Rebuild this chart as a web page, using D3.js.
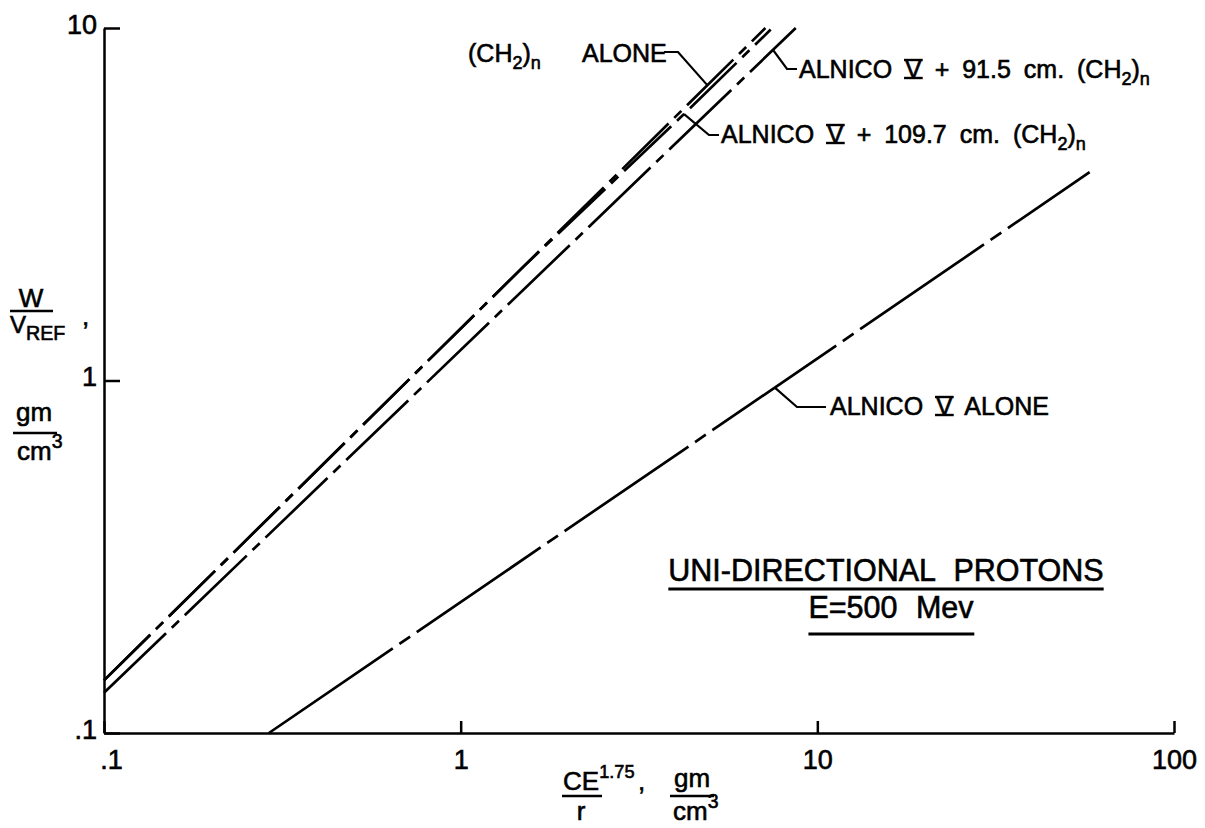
<!DOCTYPE html>
<html>
<head>
<meta charset="utf-8">
<script src="https://cdn.jsdelivr.net/npm/d3@7"></script>
<style>
  html, body { margin: 0; padding: 0; background: #fff; }
  svg { display: block; }
  text { font-family: "Liberation Sans", Arial, sans-serif; fill: #000; stroke: #000; stroke-width: 0.6px; }
</style>
</head>
<body>
<svg id="chart" width="1205" height="828"></svg>
<script>
// Curve points: [CE^1.75/r (gm/cm^3), W/V_REF (gm/cm^3)]
const ch2Alone    = [[0.1, 0.141], [7.15, 10]];
const alnico1097  = [[0.1, 0.141], [1.5, 2.104], [4.23, 5.7], [7.4, 9.9]];
const alnico915   = [[0.1, 0.13], [8.7, 10]];
const alnicoAlone = [[0.29, 0.1], [7.6, 0.955], [58, 3.9]];

const xTicks = [0.1, 1, 10, 100];
const yTicks = [0.1, 1, 10];
const tickText = new Map([[0.1, ".1"], [1, "1"], [10, "10"], [100, "100"]]);

const svg = d3.select("#chart");

const x = d3.scaleLog().domain([0.1, 100]).range([104, 1174]);
const y = d3.scaleLog().domain([0.1, 10]).range([733, 28]);

const INK = "#000";

// ---- axes (ticks point inward) ----
const gx = svg.append("g")
  .attr("transform", `translate(0,${y(0.1)})`)
  .call(d3.axisBottom(x).tickValues(xTicks).tickFormat(d => tickText.get(d))
        .tickSizeInner(-12).tickSizeOuter(0).tickPadding(17));
const gy = svg.append("g")
  .attr("transform", `translate(${x(0.1)},0)`)
  .call(d3.axisLeft(y).tickValues(yTicks).tickFormat(d => tickText.get(d))
        .tickSizeInner(-16).tickSizeOuter(0).tickPadding(7));

[gx, gy].forEach(g => {
  g.attr("font-family", null).attr("font-size", 27);
  g.selectAll("path.domain, line").attr("stroke", INK).attr("stroke-width", 2.5);
  g.selectAll("text").attr("fill", INK);
});
gy.selectAll("text").attr("dy", 5);
gx.selectAll(".tick text").filter(d => d === 0.1).attr("dx", 7);

// ---- curves ----
const series = [
  { pts: ch2Alone,    dash: "65 8 10 8" },
  { pts: alnico1097,  dash: "65 8 10 8" },
  { pts: alnico915,   dash: "86 8 10 8" },
  { pts: alnicoAlone, dash: "150 8 13 8" }
];
const line = d3.line().x(d => x(d[0])).y(d => y(d[1]));
svg.append("g").selectAll("path").data(series).join("path")
  .attr("d", d => line(d.pts))
  .attr("fill", "none")
  .attr("stroke", INK)
  .attr("stroke-width", 2.7)
  .attr("stroke-dasharray", d => d.dash);

// ---- label helper: parts may be subscript, superscript or roman numeral ----
function label(px, py, parts, fs, anchor) {
  const t = svg.append("text").attr("x", px).attr("y", py)
    .attr("font-size", fs).style("word-spacing", "6px")
    .attr("text-anchor", anchor || "start");
  let shift = 0;
  parts.forEach(p => {
    const s = t.append("tspan").text(p.t);
    let target = 0;
    if (p.sub) { s.attr("font-size", fs * (p.k || 0.72)); target = fs * 0.28; }
    if (p.sup) { s.attr("font-size", fs * (p.k || 0.66)); target = -fs * 0.45; }
    if (target - shift !== 0) s.attr("dy", target - shift);
    shift = target;
    if (p.roman) s.classed("roman", true);
  });
  t.selectAll("tspan.roman").each(function () {
    const a = this.getStartPositionOfChar(0), b = this.getEndPositionOfChar(0);
    const top = a.y - fs * 0.72;
    [a.y, top].forEach(yy => svg.append("line")
      .attr("x1", a.x - 1).attr("x2", b.x + 1).attr("y1", yy).attr("y2", yy)
      .attr("stroke", INK).attr("stroke-width", 2.4));
  });
  return t;
}
function leader(pts) {
  svg.append("path").attr("d", d3.line()(pts))
    .attr("fill", "none").attr("stroke", INK).attr("stroke-width", 2.2);
}

const FS = 25;
const ch2Parts = [{ t: "(CH" }, { t: "2", sub: true }, { t: ")" }, { t: "n", sub: true }];

// (CH2)n ALONE
label(468, 62, ch2Parts, FS);
label(582, 62, [{ t: "ALONE" }], FS);
leader([[664, 52], [678, 52], [x(4.9), y(1.41 * 4.9)]]);

// ALNICO V + 91.5 cm. (CH2)n
label(799, 78, [{ t: "ALNICO " }, { t: "V", roman: true }, { t: " + 91.5 cm. " }].concat(ch2Parts), FS);
leader([[x(7.51), y(8.67)], [787, 69], [797, 69]]);

// ALNICO V + 109.7 cm. (CH2)n
label(721, 143, [{ t: "ALNICO " }, { t: "V", roman: true }, { t: " + 109.7 cm. " }].concat(ch2Parts), FS);
leader([[x(4.23), y(5.7)], [709, 135], [719, 135]]);

// ALNICO V ALONE
label(830, 415, [{ t: "ALNICO " }, { t: "V", roman: true }, { t: " ALONE" }], FS);
leader([[x(7.6), y(0.955)], [797, 407], [826, 407]]);

// ---- title block ----
function underlined(cx, py, str, fs, gap) {
  const t = svg.append("text").attr("x", cx).attr("y", py).attr("font-size", fs)
    .attr("text-anchor", "middle").style("word-spacing", "10px").text(str);
  const bb = t.node().getBBox();
  svg.append("line").attr("x1", bb.x).attr("x2", bb.x + bb.width)
    .attr("y1", py + gap).attr("y2", py + gap)
    .attr("stroke", INK).attr("stroke-width", 2.8);
}
underlined(886, 581, "UNI-DIRECTIONAL PROTONS", 30.5, 8);
underlined(891, 618, "E=500 Mev", 30.5, 16);

// ---- axis titles ----
function bar(x1, x2, yy) {
  svg.append("line").attr("x1", x1).attr("x2", x2).attr("y1", yy).attr("y2", yy)
    .attr("stroke", INK).attr("stroke-width", 2.5);
}
// y: W / V_REF , gm / cm^3
label(31, 307, [{ t: "W" }], 26, "middle");
bar(10, 53, 311);
label(10, 333, [{ t: "V" }, { t: "REF", sub: true, k: 0.82 }], 24);
label(82, 325, [{ t: "," }], 26);
label(34, 421, [{ t: "gm" }], 26, "middle");
bar(13, 57, 433);
label(17, 460, [{ t: "cm" }, { t: "3", sup: true, k: 0.75 }], 26);

// x: CE^1.75 / r , gm / cm^3
label(563, 790, [{ t: "CE" }, { t: "1.75", sup: true, k: 0.7 }], 26);
bar(562, 602, 796);
label(581, 820, [{ t: "r" }], 26, "middle");
label(638, 790, [{ t: "," }], 26);
label(692, 787, [{ t: "gm" }], 26, "middle");
bar(670, 714, 796);
label(673, 820, [{ t: "cm" }, { t: "3", sup: true, k: 0.75 }], 26);
</script>
</body>
</html>
